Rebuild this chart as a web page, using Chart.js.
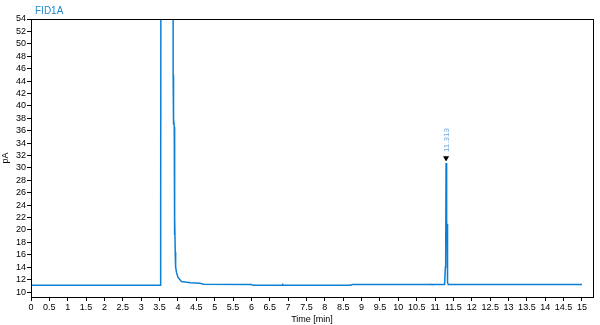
<!DOCTYPE html>
<html>
<head>
<meta charset="utf-8">
<script src="https://cdn.jsdelivr.net/npm/chart.js@4/dist/chart.umd.min.js"></script>
<style>
  html, body { margin: 0; padding: 0; background: #fff; }
  #wrap { width: 600px; height: 325px; position: relative; }
</style>
</head>
<body>
<div id="wrap"><canvas id="chrom"></canvas></div>
<script>
// FID1A chromatogram: signal (pA) against retention time (min)
var signalName = 'FID1A';
var timeMin = [0, 3.52, 3.525, 3.53, 3.535, 3.54, 3.6, 3.85, 3.865, 3.87, 3.875, 3.88, 3.885, 3.9, 3.905, 3.91, 3.915, 3.93, 3.935, 3.94, 3.96, 4.0, 4.05, 4.1, 4.2, 4.35, 4.6, 4.7, 6.0, 6.05, 6.84, 6.86, 6.88, 8.7, 8.75, 10.87, 10.89, 10.91, 11.26, 11.27, 11.28, 11.29, 11.3, 11.31, 11.32, 11.33, 11.34, 11.36, 15];
var signalPA = [11.1, 11.1, 11.1, 25, 23.8, 80, 400, 300, 400, 45, 44, 37, 38, 36.6, 21.5, 19.2, 22, 15.4, 16.5, 14, 13.2, 12.4, 12.0, 11.7, 11.6, 11.5, 11.4, 11.25, 11.2, 11.1, 11.1, 11.2, 11.1, 11.1, 11.2, 11.2, 11.25, 11.2, 11.2, 11.2, 14, 15.5, 30.8, 22, 18, 21, 11.5, 11.2, 11.2];
var peakTime = [11.3];
var peakMark = [31.6];
var peakLabels = ['11.313'];
var xTicks = [0, 0.5, 1, 1.5, 2, 2.5, 3, 3.5, 4, 4.5, 5, 5.5, 6, 6.5, 7, 7.5, 8, 8.5, 9, 9.5, 10, 10.5, 11, 11.5, 12, 12.5, 13, 13.5, 14, 14.5, 15];
var yTicks = [10, 12, 14, 16, 18, 20, 22, 24, 26, 28, 30, 32, 34, 36, 38, 40, 42, 44, 46, 48, 50, 52, 54];

var traceColor = '#0a7fd4';
var font = { family: 'Liberation Sans, Arial, sans-serif', size: 9 };

var tracePoints = timeMin.map(function (t, i) { return { x: t, y: signalPA[i] }; });
var markPoints = peakTime.map(function (t, i) { return { x: t, y: peakMark[i] }; });

var framePlugin = {
  id: 'frame',
  afterDraw: function (chart) {
    var ctx = chart.ctx;
    var a = chart.chartArea;
    ctx.save();
    ctx.strokeStyle = '#000';
    ctx.lineWidth = 1;
    ctx.strokeRect(Math.round(a.left) + 0.5, Math.round(a.top) + 0.5,
      Math.round(a.right - a.left), Math.round(a.bottom - a.top));
    // signal name above the plot
    ctx.fillStyle = '#1f86d0';
    ctx.font = '10px Liberation Sans, Arial, sans-serif';
    ctx.textBaseline = 'alphabetic';
    ctx.fillText(signalName, 35, 14);
    // peak retention time labels, rotated
    var xs = chart.scales.x, ys = chart.scales.y;
    ctx.fillStyle = '#6fa8dc';
    ctx.font = '8px Liberation Sans, Arial, sans-serif';
    peakTime.forEach(function (t, i) {
      var px = xs.getPixelForValue(t);
      var py = ys.getPixelForValue(peakMark[i]) - 6;
      ctx.save();
      ctx.translate(px + 3, py);
      ctx.rotate(-Math.PI / 2);
      ctx.textAlign = 'left';
      ctx.fillText(peakLabels[i], 0, 0);
      ctx.restore();
    });
    ctx.restore();
  }
};

new Chart(document.getElementById('chrom'), {
  type: 'line',
  data: {
    datasets: [
      {
        label: signalName,
        data: tracePoints,
        borderColor: traceColor,
        borderWidth: 1.5,
        pointRadius: 0,
        tension: 0,
        fill: false
      },
      {
        label: 'peak',
        data: markPoints,
        showLine: false,
        pointStyle: 'triangle',
        rotation: 180,
        pointRadius: 3.5,
        pointBackgroundColor: '#000',
        pointBorderColor: '#000',
        borderWidth: 0
      }
    ]
  },
  options: {
    responsive: true,
    maintainAspectRatio: false,
    animation: false,
    events: [],
    layout: { padding: { top: 19, right: 7, left: 0, bottom: 0 } },
    plugins: { legend: { display: false }, tooltip: { enabled: false } },
    scales: {
      x: {
        type: 'linear',
        min: 0,
        max: 15.3,
        afterBuildTicks: function (scale) {
          scale.ticks = xTicks.map(function (v) { return { value: v }; });
        },
        afterFit: function (scale) { scale.height = 28; },
        ticks: { color: '#000', font: font, padding: 1, maxRotation: 0, autoSkip: false,
          callback: function (v) { return String(v); } },
        grid: { drawOnChartArea: false, drawTicks: true, tickLength: 4, color: '#000' },
        border: { color: '#000', width: 1 },
        title: { display: true, text: 'Time [min]', color: '#000', font: font, padding: { top: 0, bottom: 0 } }
      },
      y: {
        type: 'linear',
        min: 9.2,
        max: 54,
        afterBuildTicks: function (scale) {
          scale.ticks = yTicks.map(function (v) { return { value: v }; });
        },
        afterFit: function (scale) { scale.width = 31; },
        ticks: { color: '#000', font: font, padding: 1, autoSkip: false },
        grid: { drawOnChartArea: false, drawTicks: true, tickLength: 4, color: '#000' },
        border: { color: '#000', width: 1 },
        title: { display: true, text: 'pA', color: '#000', font: font, padding: { top: 0, bottom: 0 } }
      }
    }
  },
  plugins: [framePlugin]
});
</script>
</body>
</html>
